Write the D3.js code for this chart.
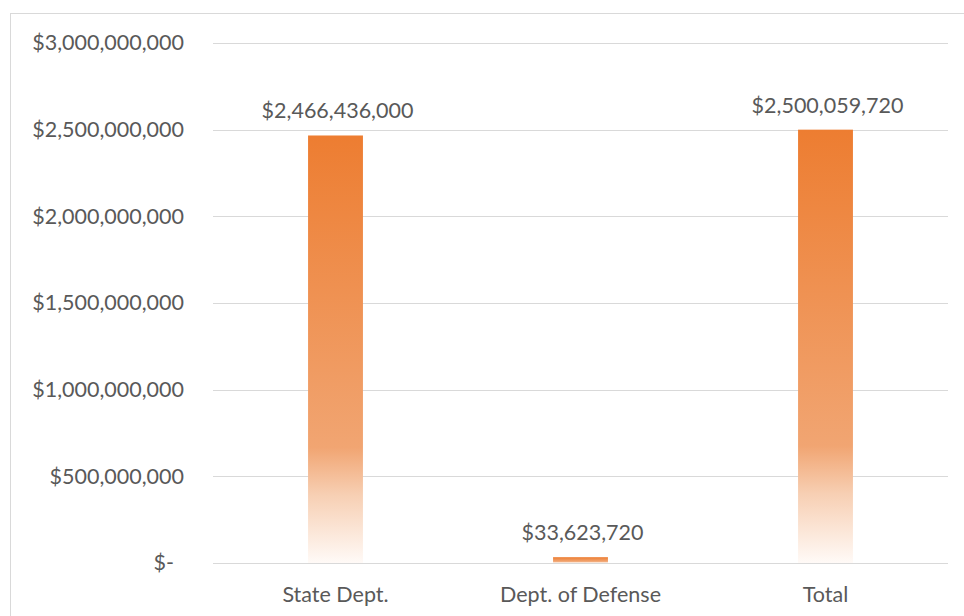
<!DOCTYPE html>
<html>
<head>
<meta charset="utf-8">
<script src="https://cdn.jsdelivr.net/npm/d3@7"></script>
<style>
  html, body { margin: 0; padding: 0; background: #fff; }
  svg { display: block; }
  text { font-family: Lato, "Open Sans", sans-serif; fill: #595959; }
</style>
</head>
<body>
<svg id="chart" width="964" height="616"></svg>
<script>
const categories = ["State Dept.", "Dept. of Defense", "Total"];
const values = [2466436000, 33623720, 2500059720];
const yTicks = [0, 500000000, 1000000000, 1500000000, 2000000000, 2500000000, 3000000000];

const W = 964, H = 616;
const margin = { left: 213, right: 16, top: 43, bottom: 53 };
const svg = d3.select("#chart");

// chart border
svg.append("rect")
  .attr("x", 10.5).attr("y", 13.5)
  .attr("width", W).attr("height", H)
  .attr("fill", "none").attr("stroke", "#d9d9d9").attr("stroke-width", 1);

const x = d3.scaleBand()
  .domain(categories)
  .range([margin.left, W - margin.right])
  .paddingInner(0.776).paddingOuter(0.388);

const y = d3.scaleLinear()
  .domain([0, 3000000000])
  .range([H - margin.bottom, margin.top]);

const fmt = v => v === 0 ? "$-" : "$" + d3.format(",")(v);

// gradient
const defs = svg.append("defs");
const grad = defs.append("linearGradient")
  .attr("id", "barGrad").attr("x1", 0).attr("y1", 0).attr("x2", 0).attr("y2", 1);
[[0, "#ED7D31"], [0.73, "#F1A572"], [0.84, "#F7CFB3"], [1, "#FFFAF7"]].forEach(([o, c]) =>
  grad.append("stop").attr("offset", o).attr("stop-color", c));

// gridlines
svg.append("g")
  .selectAll("line")
  .data(yTicks)
  .join("line")
  .attr("x1", margin.left).attr("x2", W - margin.right)
  .attr("y1", d => Math.round(y(d)) + 0.5).attr("y2", d => Math.round(y(d)) + 0.5)
  .attr("stroke", "#d9d9d9").attr("stroke-width", 1);

// y axis labels
const yAxis = svg.append("g")
  .attr("transform", `translate(${margin.left},0)`)
  .call(d3.axisLeft(y).tickValues(yTicks).tickFormat(fmt).tickSize(0).tickPadding(29));
yAxis.select(".domain").remove();
yAxis.selectAll("text")
  .style("font-family", "Lato, 'Open Sans', sans-serif")
  .style("font-size", "21.5px")
  .attr("fill", "#595959")
  .attr("dx", d => d === 0 ? -10 : 0);

// bars
svg.append("g")
  .selectAll("rect")
  .data(values)
  .join("rect")
  .attr("x", (d, i) => x(categories[i]))
  .attr("width", x.bandwidth())
  .attr("y", d => y(d))
  .attr("height", d => y(0) - y(d))
  .attr("fill", "url(#barGrad)");

// data labels
svg.append("g")
  .selectAll("text")
  .data(values)
  .join("text")
  .attr("x", (d, i) => x(categories[i]) + x.bandwidth() / 2 + 2)
  .attr("y", d => y(d) - 17)
  .attr("text-anchor", "middle")
  .style("font-size", "21.5px")
  .text(fmt);

// x axis
const xAxis = svg.append("g")
  .attr("transform", `translate(0,${y(0)})`)
  .call(d3.axisBottom(x).tickSize(0).tickPadding(24));
xAxis.select(".domain").remove();
xAxis.selectAll("text")
  .style("font-family", "Lato, 'Open Sans', sans-serif")
  .style("font-size", "21.5px")
  .attr("fill", "#595959");
</script>
</body>
</html>
